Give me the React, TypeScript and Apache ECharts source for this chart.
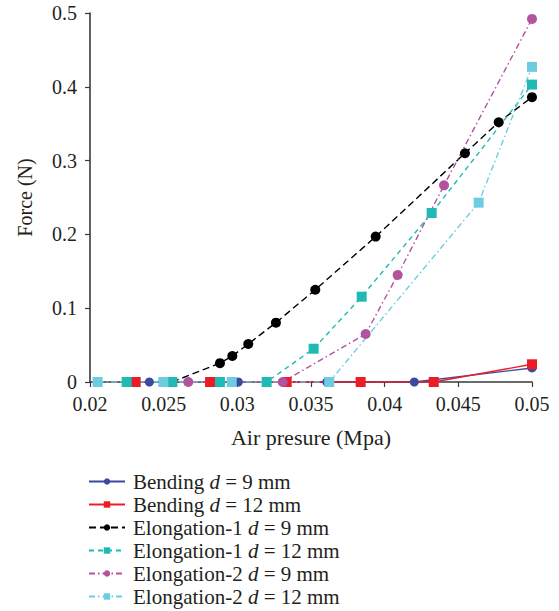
import React, { useEffect, useRef } from "react";
import * as echarts from "echarts";

const bending9X = [0.02403, 0.03007, 0.03607, 0.04201, 0.05];
const bending9Y = [0, 0, 0, 0, 0.019];
const bending12X = [0.0231, 0.02815, 0.03335, 0.03837, 0.04333, 0.05];
const bending12Y = [0, 0, 0, 0, 0, 0.024];
const elong1d9X = [0.02557, 0.02882, 0.02966, 0.03074, 0.03262, 0.03529, 0.03939, 0.04545, 0.04774, 0.05];
const elong1d9Y = [0, 0.0255, 0.0352, 0.0515, 0.0804, 0.125, 0.197, 0.31, 0.352, 0.386];
const elong1d12X = [0.02249, 0.02559, 0.02882, 0.03199, 0.03518, 0.03844, 0.04319, 0.05];
const elong1d12Y = [0, 0, 0, 0, 0.0451, 0.1156, 0.229, 0.403];
const elong2d9X = [0.02667, 0.03308, 0.03871, 0.04088, 0.04403, 0.05];
const elong2d9Y = [0, 0, 0.065, 0.145, 0.2665, 0.492];
const elong2d12X = [0.02052, 0.02498, 0.02962, 0.03624, 0.04638, 0.05];
const elong2d12Y = [0, 0, 0, 0, 0.243, 0.427];

const xTicks = { min: 0.02, max: 0.05, interval: 0.005 };
const yTicks = { min: 0, max: 0.5, interval: 0.1 };

const FONT = "Liberation Serif";
const TXT = "#231f20";

const zip = (xs: number[], ys: number[]) => xs.map((x, i) => [x, ys[i]]);

export default function App() {
  const ref = useRef<HTMLDivElement>(null);
  useEffect(() => {
    if (!ref.current) return;
    const chart = echarts.init(ref.current, undefined, { renderer: "svg" });
    const mk = (
      name: string,
      xs: number[],
      ys: number[],
      color: string,
      symbol: string,
      size: number,
      type: any
    ) => ({
      name,
      type: "line",
      data: zip(xs, ys),
      symbol,
      symbolSize: size,
      showSymbol: true,
      color,
      itemStyle: { color, opacity: 1 },
      lineStyle: { color, width: 1.4, type },
      emphasis: { disabled: true },
    });
    chart.setOption({
      animation: false,
      grid: { left: 90, right: 27, top: 13, bottom: 229, containLabel: false },
      xAxis: {
        type: "value",
        min: xTicks.min,
        max: xTicks.max,
        interval: xTicks.interval,
        name: "Air presure (Mpa)",
        nameLocation: "middle",
        nameGap: 44,
        nameTextStyle: { fontFamily: FONT, fontSize: 22, color: TXT },
        axisLine: { lineStyle: { color: "#3a3a3a", width: 1.6 } },
        axisTick: { show: true, length: 5, lineStyle: { color: "#3a3a3a", width: 1.2 } },
        axisLabel: { fontFamily: FONT, fontSize: 20, color: TXT, margin: 12 },
        splitLine: { show: false },
      },
      yAxis: {
        type: "value",
        min: yTicks.min,
        max: yTicks.max,
        interval: yTicks.interval,
        name: "Force (N)",
        nameLocation: "middle",
        nameGap: 55,
        nameTextStyle: { fontFamily: FONT, fontSize: 20, color: TXT },
        axisLine: { show: true, lineStyle: { color: "#3a3a3a", width: 1.6 } },
        axisTick: { show: true, length: 5, lineStyle: { color: "#3a3a3a", width: 1.2 } },
        axisLabel: { fontFamily: FONT, fontSize: 20, color: TXT, margin: 13 },
        splitLine: { show: false },
      },
      legend: {
        orient: "vertical",
        left: 88,
        top: 471,
        height: 160,
        itemWidth: 36,
        itemHeight: 8,
        itemGap: 2,
        padding: 0,
        formatter: (name: string) => {
          const p = name.split(" d ");
          return `{n|${p[0]} }{i|d}{n| ${p[1]}}`;
        },
        textStyle: {
          fontFamily: FONT,
          fontSize: 21,
          color: TXT,
          lineHeight: 20,
          padding: [0, 0, 0, 3],
          rich: {
            n: { fontFamily: FONT, fontSize: 21, color: TXT, lineHeight: 20 },
            i: { fontFamily: FONT, fontSize: 21, color: TXT, lineHeight: 20, fontStyle: "italic" },
          },
        },
      },
      series: [
        mk("Bending d = 9 mm", bending9X, bending9Y, "#3a4aa0", "circle", 9, "solid"),
        mk("Bending d = 12 mm", bending12X, bending12Y, "#ec1c24", "rect", 10, "solid"),
        mk("Elongation-1 d = 9 mm", elong1d9X, elong1d9Y, "#000000", "circle", 10, [7, 4]),
        mk("Elongation-1 d = 12 mm", elong1d12X, elong1d12Y, "#1fbab3", "rect", 10, [5, 4]),
        mk("Elongation-2 d = 9 mm", elong2d9X, elong2d9Y, "#b1539f", "circle", 10, [6, 3, 1.5, 3]),
        mk("Elongation-2 d = 12 mm", elong2d12X, elong2d12Y, "#6dcde0", "rect", 10, [6, 3, 1.5, 3]),
      ],
    });
    return () => chart.dispose();
  }, []);
  return (
    <div
      ref={ref}
      style={{ position: "absolute", left: 0, top: 0, width: 559, height: 611, background: "#fff" }}
    />
  );
}
